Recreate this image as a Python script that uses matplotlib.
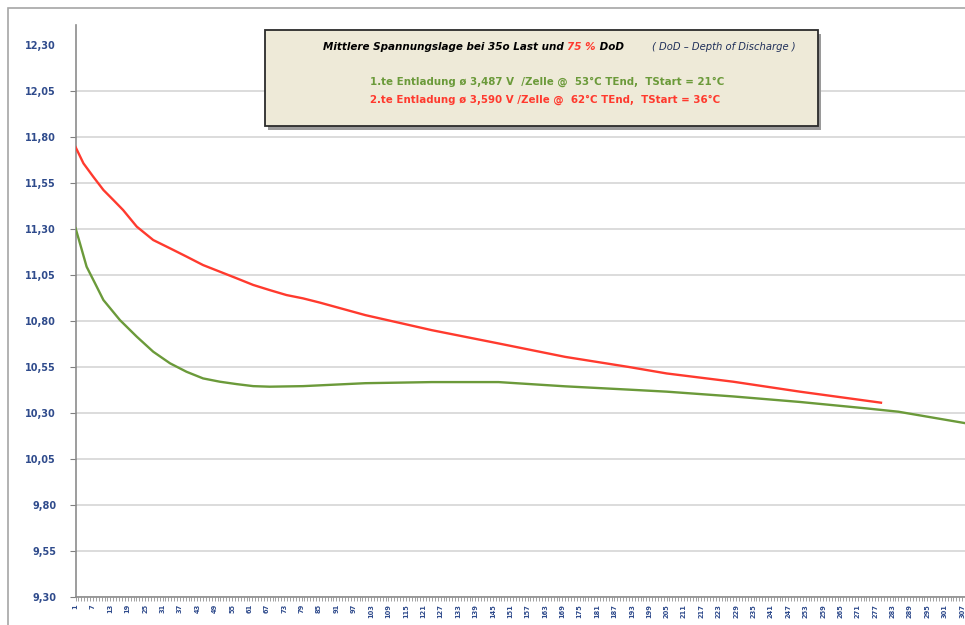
import numpy as np
import matplotlib
matplotlib.use('Agg')
import matplotlib.pyplot as plt
from matplotlib.patches import Rectangle
from matplotlib.ticker import FixedLocator

plt.rcParams['font.family'] = ['DejaVu Sans']

# measurement index (x) and mean battery voltage (V)
green_idx = [1, 2.5, 4.8, 7.7, 10.6, 16.3, 22.1, 27.8, 33.6, 39.3, 45, 50.8,
             56.6, 62.3, 68, 79.5, 101, 124, 147, 170, 192, 205, 228, 251,
             274, 285, 308]
green_volt = [11.304, 11.222, 11.095, 11.005, 10.914, 10.805, 10.715, 10.633,
              10.570, 10.524, 10.488, 10.470, 10.457, 10.446, 10.443, 10.446,
              10.462, 10.468, 10.468, 10.445, 10.427, 10.416, 10.390, 10.360,
              10.325, 10.307, 10.245]

red_idx = [1, 3.7, 7.1, 10.6, 14, 17.4, 22.1, 27.8, 33.6, 39.3, 45, 50.8,
           56.6, 62.3, 68, 73.8, 79.5, 85.3, 101, 124, 147, 170, 192, 205,
           228, 251, 279]
red_volt = [11.745, 11.657, 11.584, 11.512, 11.458, 11.403, 11.313, 11.240,
            11.195, 11.150, 11.104, 11.068, 11.032, 10.996, 10.968, 10.941,
            10.923, 10.900, 10.832, 10.750, 10.678, 10.605, 10.550, 10.515,
            10.470, 10.416, 10.356]

y_ticks = [9.30, 9.55, 9.80, 10.05, 10.30, 10.55, 10.80, 11.05, 11.30, 11.55,
           11.80, 12.05, 12.30]
y_labels = ['9,30', '9,55', '9,80', '10,05', '10,30', '10,55', '10,80',
            '11,05', '11,30', '11,55', '11,80', '12,05', '12,30']
x_label_step = 6
x_max = 308

W, H = 965, 625
GREEN = '#6B9A3A'
RED = '#FF3A2E'
NAVY = '#2F4B8C'


def fx(px):
    return px / W


def fy(py):
    return 1 - py / H


fig = plt.figure(figsize=(W / 100, H / 100), dpi=100)

# outer chart border (cropped right and bottom)
fig.patches.append(Rectangle((fx(8), -0.1), 2, fy(8) + 0.1, transform=fig.transFigure,
                             facecolor='none', edgecolor='#A6A6A6', lw=1.2))

ax = fig.add_axes([fx(75.6), fy(597), 1 - fx(75.6), (597 - 25) / H])
ax.plot(green_idx, green_volt, color=GREEN, lw=1.7, zorder=3)
ax.plot(red_idx, red_volt, color=RED, lw=1.7, zorder=3)

ax.set_xlim(1, x_max)
ax.set_ylim(9.30, 12.30 + 20 / 184)

ax.set_yticks(y_ticks)
ax.set_yticklabels(y_labels, fontsize=7, fontweight='bold', color=NAVY)
ax.yaxis.grid(True, color='#D9D9D9', lw=1.3)
ax.yaxis.get_gridlines()[-1].set_visible(False)
ax.yaxis.get_major_ticks()[-1].tick1line.set_visible(False)
ax.tick_params(axis='y', length=4, width=0.8, color='#808080', pad=10)

major = list(range(1, x_max + 1, x_label_step))
ax.xaxis.set_major_locator(FixedLocator(major))
ax.set_xticklabels([str(v) for v in major], rotation=90, fontsize=4.8,
                   color=NAVY, fontweight='bold')
ax.xaxis.set_minor_locator(FixedLocator(list(range(1, x_max + 1))))
ax.tick_params(axis='x', which='both', length=3, width=0.6, color='#909090', pad=2)

for s in ['top', 'right']:
    ax.spines[s].set_visible(False)
for s in ['left', 'bottom']:
    ax.spines[s].set_color('#8C8C8C')
    ax.spines[s].set_linewidth(1.2)

# info box with shadow
bx0, by0, bx1, by1 = 265, 30, 818, 126
fig.patches.append(Rectangle((fx(bx0 + 3), fy(by1 + 4)), fx(bx1 - bx0), (by1 - by0) / H,
                             transform=fig.transFigure, facecolor='#9A9A9A',
                             edgecolor='none', zorder=5))
fig.patches.append(Rectangle((fx(bx0), fy(by1)), fx(bx1 - bx0), (by1 - by0) / H,
                             transform=fig.transFigure, facecolor='#EEEAD8',
                             edgecolor='#2B2B2B', lw=1.3, zorder=6))

renderer = fig.canvas.get_renderer()
x_cur = fx(323)
for part, col in [('Mittlere Spannungslage bei 35o Last und ', 'black'),
                  ('75 %', RED), (' DoD', 'black')]:
    t = fig.text(x_cur, fy(47), part, color=col, fontsize=7.5, fontweight='bold',
                 fontstyle='italic', va='center', ha='left', zorder=7)
    bb = t.get_window_extent(renderer)
    x_cur += bb.width / W
fig.text(fx(652), fy(47), '( DoD \u2013 Depth of Discharge )', color='#1F2F5A',
         fontsize=7.2, fontstyle='italic', va='center', ha='left', zorder=7)
fig.text(fx(370), fy(82), '1.te Entladung \u00f8 3,487 V  /Zelle @  53\u00b0C TEnd,  TStart = 21\u00b0C',
         color=GREEN, fontsize=7.4, fontweight='bold', va='center', ha='left', zorder=7)
fig.text(fx(370), fy(100), '2.te Entladung \u00f8 3,590 V /Zelle @  62\u00b0C TEnd,  TStart = 36\u00b0C',
         color=RED, fontsize=7.4, fontweight='bold', va='center', ha='left', zorder=7)

fig.savefig('out.png', dpi=100)
